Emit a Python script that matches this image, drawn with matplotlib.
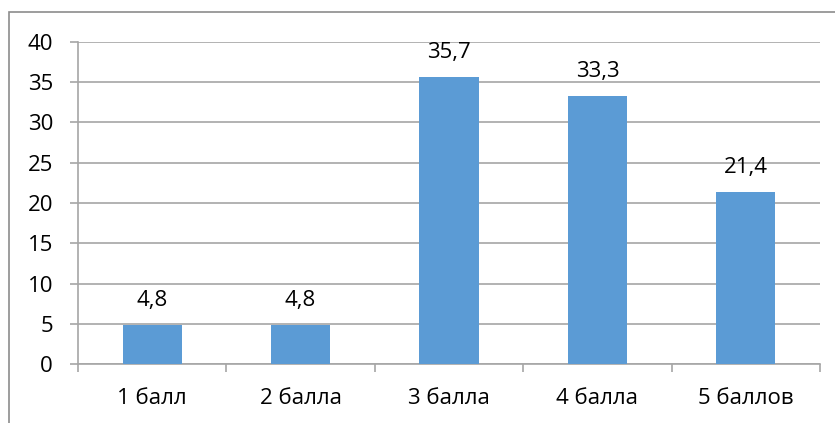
import matplotlib
matplotlib.use("Agg")
import matplotlib.pyplot as plt
from matplotlib.patches import Rectangle

categories = ["1 балл", "2 балла", "3 балла", "4 балла", "5 баллов"]
values = [4.8, 4.8, 35.7, 33.3, 21.4]
labels = ["4,8", "4,8", "35,7", "33,3", "21,4"]
yticks = [0, 5, 10, 15, 20, 25, 30, 35, 40]

plt.rcParams['font.family'] = ['Open Sans', 'DejaVu Sans']
FS = 16
W, H = 835, 423
fig = plt.figure(figsize=(W/100, H/100), dpi=100)
fig.patches.append(Rectangle((9/W, -0.1), 1.2, 1 - 12/H + 0.1, transform=fig.transFigure,
                             fill=False, edgecolor="#8c8c8c", linewidth=1.2))
ax = fig.add_axes([78/W, (H-364)/H, (820-78)/W, (364-42)/H])

x = list(range(len(categories)))
bars = ax.bar(x, values, width=0.4, color="#5b9bd5", zorder=3)
for xi, v, lab in zip(x, values, labels):
    ax.annotate(lab, (xi, v), xytext=(0, 10), textcoords="offset points",
                ha="center", va="bottom", fontsize=FS, color="black")

ax.set_xlim(-0.5, len(categories) - 0.5)
ax.set_ylim(0, 40)
ax.set_yticks(yticks)
ax.set_yticklabels([str(t) for t in yticks], fontsize=FS)
ax.yaxis.grid(True, color="#a6a6a6", linewidth=1.2, zorder=0)
ax.set_axisbelow(True)

ax.set_xticks(x)
ax.set_xticklabels(categories, fontsize=FS)
ax.tick_params(axis="x", length=0, pad=17)
ax.set_xticks([i - 0.5 for i in range(len(categories) + 1)], minor=True)
ax.tick_params(axis="x", which="minor", length=6, color="#a6a6a6", width=1.2)
ax.tick_params(axis="y", length=6, color="#a6a6a6", width=1.2, pad=12)

for s in ["top", "right"]:
    ax.spines[s].set_visible(False)
ax.spines["left"].set_color("#a6a6a6")
ax.spines["bottom"].set_color("#a6a6a6")
ax.spines["left"].set_linewidth(1.2)
ax.spines["bottom"].set_linewidth(1.2)

fig.savefig("out.png", dpi=100)
